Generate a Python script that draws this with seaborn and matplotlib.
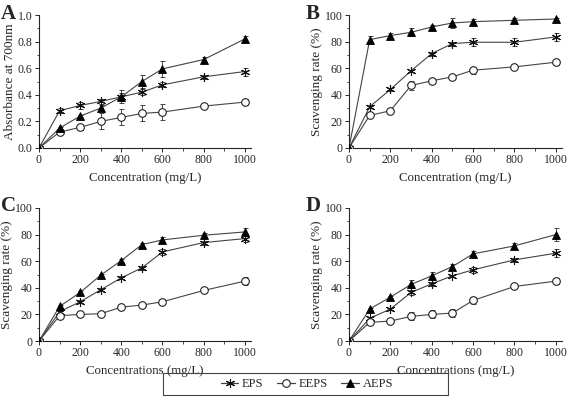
import numpy as np
import pandas as pd
import matplotlib
matplotlib.use("Agg")
import matplotlib.pyplot as plt
import seaborn as sns
from matplotlib.lines import Line2D
from matplotlib.patches import Rectangle
from matplotlib.ticker import MultipleLocator, FormatStrFormatter

conc = [0, 100, 200, 300, 400, 500, 600, 800, 1000]
series = ["EPS", "EEPS", "AEPS"]

# Panel A: absorbance at 700 nm
A_EPS = [0, 0.28, 0.32, 0.35, 0.385, 0.42, 0.475, 0.535, 0.575]
A_EPS_err = [0, 0.02, 0.025, 0.02, 0.03, 0.02, 0.02, 0.015, 0.03]
A_EEPS = [0, 0.12, 0.155, 0.20, 0.23, 0.26, 0.27, 0.315, 0.345]
A_EEPS_err = [0, 0.01, 0.02, 0.06, 0.06, 0.06, 0.06, 0.01, 0.02]
A_AEPS = [0, 0.15, 0.24, 0.30, 0.385, 0.50, 0.595, 0.665, 0.82]
A_AEPS_err = [0, 0.01, 0.01, 0.02, 0.05, 0.05, 0.06, 0.02, 0.025]

# Panel B
B_EPS = [0, 31, 44, 58, 71, 78.5, 79.5, 79.5, 83.5]
B_EPS_err = [0, 1, 1, 1, 1.5, 1.5, 3, 3, 3]
B_EEPS = [0, 24.5, 28, 47, 50.5, 53.5, 58.5, 61, 64.5]
B_EEPS_err = [0, 1, 1.5, 3.5, 1, 1, 2.5, 1.5, 2]
B_AEPS = [0, 81.5, 84.5, 87, 91, 94, 95, 96, 97]
B_AEPS_err = [0, 3, 2, 3, 1.5, 4, 2, 1.5, 1]

# Panel C
C_EPS = [0, 22, 29.5, 38.5, 47.5, 55, 67, 74, 77]
C_EPS_err = [0, 1, 1, 1, 1, 1.5, 2, 1.5, 2.5]
C_EEPS = [0, 19, 20, 20.5, 25.5, 27, 29.5, 38, 45]
C_EEPS_err = [0, 1, 0.5, 0.5, 1, 1, 2, 1, 3]
C_AEPS = [0, 26, 36.5, 49.5, 60.5, 72.5, 76, 79.5, 82]
C_AEPS_err = [0, 1, 1, 1, 1, 1.5, 2, 1.5, 3]

# Panel D
D_EPS = [0, 17, 24, 36.5, 43, 49, 53.5, 61, 66]
D_EPS_err = [0, 1, 1, 2, 1.5, 1, 2, 1.5, 3]
D_EEPS = [0, 14, 15, 18.5, 20, 21, 30.5, 41, 45]
D_EEPS_err = [0, 1, 1.5, 3, 3, 3, 2.5, 1.5, 2.5]
D_AEPS = [0, 24, 33, 42.5, 49, 56, 65.5, 71.5, 80]
D_AEPS_err = [0, 1, 1, 3, 3, 2, 2.5, 2, 5]

panels = [
    ("A", (A_EPS, A_EEPS, A_AEPS), (A_EPS_err, A_EEPS_err, A_AEPS_err),
     "Absorbance at 700nm", "Concentration (mg/L)", (0, 1.0), 0.2, 0.1, "%.1f"),
    ("B", (B_EPS, B_EEPS, B_AEPS), (B_EPS_err, B_EEPS_err, B_AEPS_err),
     "Scavenging rate (%)", "Concentration (mg/L)", (0, 100), 20, 10, "%d"),
    ("C", (C_EPS, C_EEPS, C_AEPS), (C_EPS_err, C_EEPS_err, C_AEPS_err),
     "Scavenging rate (%)", "Concentrations (mg/L)", (0, 100), 20, 10, "%d"),
    ("D", (D_EPS, D_EEPS, D_AEPS), (D_EPS_err, D_EEPS_err, D_AEPS_err),
     "Scavenging rate (%)", "Concentrations (mg/L)", (0, 100), 20, 10, "%d"),
]

sns.set_style("ticks")
plt.rcParams["font.family"] = ["Liberation Serif", "DejaVu Serif"]

W, H = 567, 412
fig = plt.figure(figsize=(W / 100, H / 100), dpi=100)

# pixel boxes: (left, top, right, bottom)
boxes = {
    "A": (39, 15, 251, 148),
    "B": (349, 15, 562, 148),
    "C": (39, 208, 251, 341),
    "D": (349, 208, 562, 341),
}
letter_pos = {"A": (1, 4), "B": (306, 4), "C": (1, 196), "D": (306, 196)}

styles = {
    "EPS": dict(marker=(6, 2, 0), markersize=6.5, markerfacecolor="black",
                markeredgecolor="#111111", markeredgewidth=0.8),
    "EEPS": dict(marker="o", markersize=5.5, markerfacecolor="white",
                 markeredgecolor="#222222", markeredgewidth=0.8),
    "AEPS": dict(marker="^", markersize=5.5, markerfacecolor="black",
                 markeredgecolor="black", markeredgewidth=0.6),
}
line_color = "#444444"

for letter, vals, errs, ylab, xlab, ylim, ymaj, ymin, fmt in panels:
    l, t, r, b = boxes[letter]
    ax = fig.add_axes([l / W, 1 - b / H, (r - l) / W, (b - t) / H])
    for name, v, e in zip(series, vals, errs):
        df = pd.DataFrame({"conc": conc, "val": v})
        ax.errorbar(conc, v, yerr=e, fmt="none", ecolor="#444444",
                    elinewidth=0.7, capsize=1.8, capthick=0.7, zorder=2)
        sns.lineplot(data=df, x="conc", y="val", ax=ax, color=line_color,
                     linewidth=0.8, zorder=3, **styles[name])
    ax.set_xlim(0, 1030)
    ax.set_ylim(ylim[0], ylim[1])
    ax.set_xticks([0, 200, 400, 600, 800, 1000])
    ax.xaxis.set_minor_locator(MultipleLocator(100))
    ax.yaxis.set_major_locator(MultipleLocator(ymaj))
    ax.yaxis.set_minor_locator(MultipleLocator(ymin))
    ax.yaxis.set_major_formatter(FormatStrFormatter(fmt))
    ax.tick_params(axis="both", which="major", labelsize=8.5, length=3,
                   width=0.7, pad=1.5, direction="out")
    ax.tick_params(axis="both", which="minor", length=1.8, width=0.6,
                   direction="out")
    for s in ["left", "bottom"]:
        ax.spines[s].set_linewidth(0.8)
    sns.despine(ax=ax)
    ax.set_xlabel(xlab, fontsize=9.3, labelpad=4)
    ax.set_ylabel(ylab, fontsize=9.5, labelpad=1.5)
    lx, ly = letter_pos[letter]
    fig.text(lx / W, 1 - ly / H, letter, fontsize=15, fontweight="bold",
             ha="left", va="top")

handles = [
    Line2D([], [], color=line_color, linewidth=0.9, **styles["EPS"]),
    Line2D([], [], color=line_color, linewidth=0.9, **styles["EEPS"]),
    Line2D([], [], color=line_color, linewidth=0.9, **styles["AEPS"]),
]
leg = fig.legend(handles, series, loc="center", ncol=3,
                 bbox_to_anchor=(307 / W, 1 - 384 / H), frameon=False,
                 fontsize=9, handlelength=1.4, handletextpad=0.3,
                 columnspacing=1.1)
fig.patches.append(Rectangle((163 / W, 1 - 395 / H), (448 - 163) / W,
                             22 / H, transform=fig.transFigure, fill=False,
                             edgecolor="#444444", linewidth=0.8))

fig.savefig("out.png", dpi=100)
